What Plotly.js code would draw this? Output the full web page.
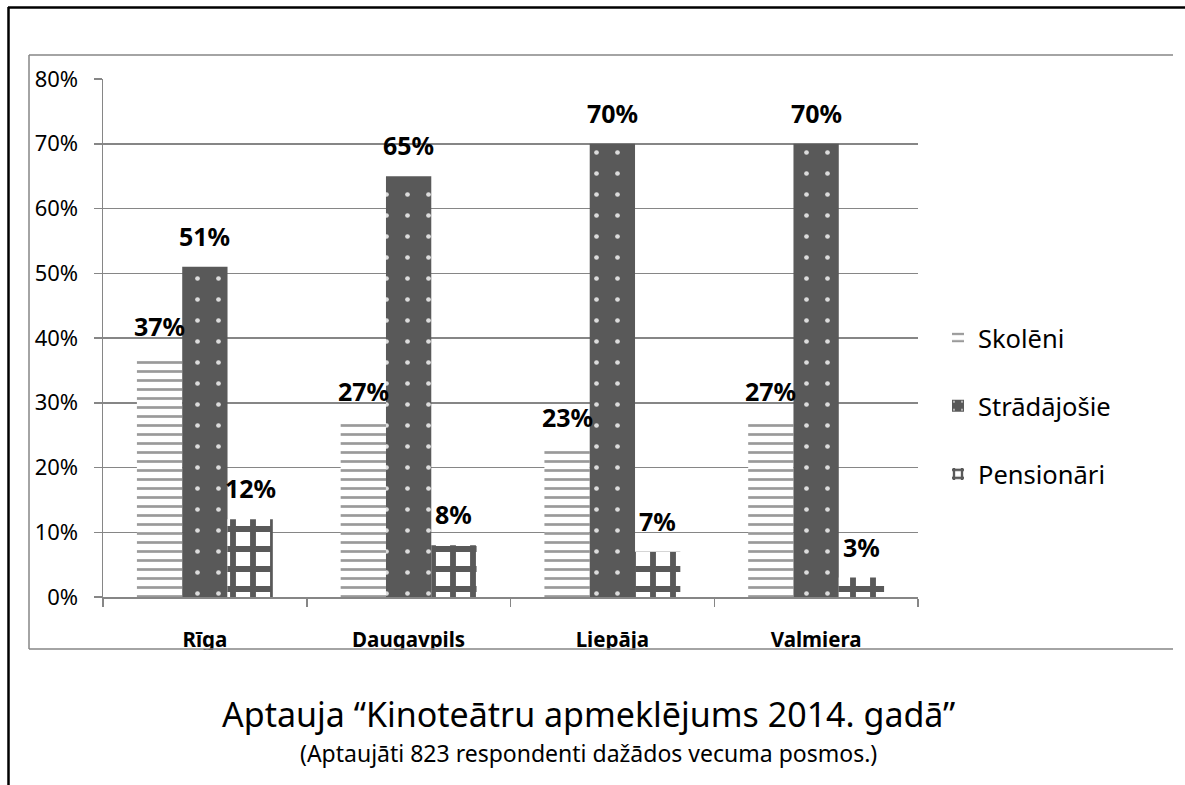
<!DOCTYPE html>
<html>
<head>
<meta charset="utf-8">
<script src="https://cdn.plot.ly/plotly-3.0.1.min.js"></script>
<style>html,body{margin:0;padding:0;background:#fff;}#chart{width:1185px;height:785px;}</style>
</head>
<body>
<div id="chart"></div>
<script>
const categories = ['Rīga', 'Daugavpils', 'Liepāja', 'Valmiera'];
const seriesNames = ['Skolēni', 'Strādājošie', 'Pensionāri'];
const skoleni = [0.37, 0.27, 0.23, 0.27];
const stradajosie = [0.51, 0.65, 0.70, 0.70];
const pensionari = [0.12, 0.08, 0.07, 0.03];
const yTickVals = [0, 0.1, 0.2, 0.3, 0.4, 0.5, 0.6, 0.7, 0.8];
const yTickText = ['0%', '10%', '20%', '30%', '40%', '50%', '60%', '70%', '80%'];
const titleText = 'Aptauja “Kinoteātru apmeklējums 2014. gadā”';
const subtitleText = '(Aptaujāti 823 respondenti dažādos vecuma posmos.)';

const W = 1185, H = 785;
const M = {l: 103, r: 267, t: 79, b: 188};
const PW = W - M.l - M.r, PH = H - M.t - M.b;
const px = p => (p - M.l) / PW;
const py = p => (H - M.b - p) / PH;

const FONT = 'Noto Sans, Open Sans, sans-serif';
const GRID = '#868686';

const seriesValues = [skoleni, stradajosie, pensionari];
const patterns = [
  {shape: '-', fgcolor: '#9a9a9a', bgcolor: '#ffffff', size: 9, solidity: 0.3},
  {shape: '.', fgcolor: '#dcdcdc', bgcolor: '#595959', size: 21, solidity: 0.04},
  {shape: '+', fgcolor: '#595959', bgcolor: '#ffffff', size: 20, solidity: 0.5}
];
const colors = ['#ffffff', '#595959', '#595959'];

const traces = seriesNames.map((name, i) => ({
  type: 'bar',
  name: name,
  x: categories,
  y: seriesValues[i],
  legendgroup: 'g' + i,
  marker: {color: colors[i], line: {width: 0}, pattern: patterns[i]},
  hoverinfo: 'skip'
}));

const offsets = [-45.3, 0, 45.3];
const labelAnns = [];
seriesValues.forEach((vals, i) => {
  vals.forEach((v, j) => {
    labelAnns.push({
      x: categories[j], xref: 'x', y: v, yref: 'y',
      xshift: offsets[i], yshift: 12, yanchor: 'bottom', xanchor: 'center',
      text: Math.round(v * 100) + '%', showarrow: false,
      font: {family: FONT, size: 25, color: '#000', weight: 'bold'}
    });
  });
});

const annotations = labelAnns.concat([
  {x: px(588), y: py(714), xref: 'paper', yref: 'paper', text: titleText, showarrow: false,
   xanchor: 'center', yanchor: 'middle', font: {family: FONT, size: 34, color: '#000'}},
  {x: px(588), y: py(753), xref: 'paper', yref: 'paper', text: subtitleText, showarrow: false,
   xanchor: 'center', yanchor: 'middle', font: {family: FONT, size: 23, color: '#000'}}
]);

const shapes = [
  {type: 'rect', xref: 'paper', yref: 'paper', x0: px(30), x1: px(1185), y0: py(650), y1: py(785),
   fillcolor: '#ffffff', line: {width: 0}, layer: 'above'},
  {type: 'line', xref: 'paper', yref: 'paper', x0: px(29), x1: px(1173), y0: py(55), y1: py(55),
   line: {color: GRID, width: 1.5}, layer: 'above'},
  {type: 'line', xref: 'paper', yref: 'paper', x0: px(29), x1: px(29), y0: py(55), y1: py(649),
   line: {color: GRID, width: 1.5}, layer: 'above'},
  {type: 'line', xref: 'paper', yref: 'paper', x0: px(29), x1: px(1173), y0: py(649), y1: py(649),
   line: {color: GRID, width: 1.5}, layer: 'above'},
  {type: 'line', xref: 'paper', yref: 'paper', x0: px(8), x1: px(1185), y0: py(7.5), y1: py(7.5),
   line: {color: '#000', width: 2.5}, layer: 'above'},
  {type: 'line', xref: 'paper', yref: 'paper', x0: px(8.5), x1: px(8.5), y0: py(7), y1: py(785),
   line: {color: '#000', width: 2.5}, layer: 'above'}
];

const layout = {
  width: W, height: H,
  margin: M,
  paper_bgcolor: '#fff', plot_bgcolor: '#fff',
  barmode: 'group', bargap: 0.333, bargroupgap: 0,
  showlegend: true,
  legend: {
    x: px(938), y: py(406), xref: 'paper', yref: 'paper', xanchor: 'left', yanchor: 'middle',
    traceorder: 'grouped', tracegroupgap: 32, itemwidth: 30,
    font: {family: FONT, size: 25.5, color: '#000'}, bgcolor: 'rgba(0,0,0,0)'
  },
  xaxis: {
    type: 'category', showline: true, linecolor: GRID, linewidth: 1.5,
    ticks: 'outside', tickson: 'boundaries', ticklen: 8, tickcolor: GRID, tickwidth: 1.5,
    ticklabelstandoff: 24,
    tickfont: {family: FONT, size: 20.5, color: '#000', weight: 'bold'},
    showgrid: false, zeroline: false, fixedrange: true
  },
  yaxis: {
    range: [0, 0.8], tickvals: yTickVals, ticktext: yTickText,
    showline: true, linecolor: GRID, linewidth: 1.5,
    ticks: 'outside', ticklen: 8, tickcolor: GRID, tickwidth: 1.5,
    ticklabelstandoff: 11,
    showgrid: true, gridcolor: GRID, gridwidth: 1.5, zeroline: false,
    tickfont: {family: FONT, size: 22, color: '#000'}, fixedrange: true
  },
  annotations: annotations,
  shapes: shapes
};

Plotly.newPlot('chart', traces, layout, {displayModeBar: false, staticPlot: true});
</script>
</body>
</html>
